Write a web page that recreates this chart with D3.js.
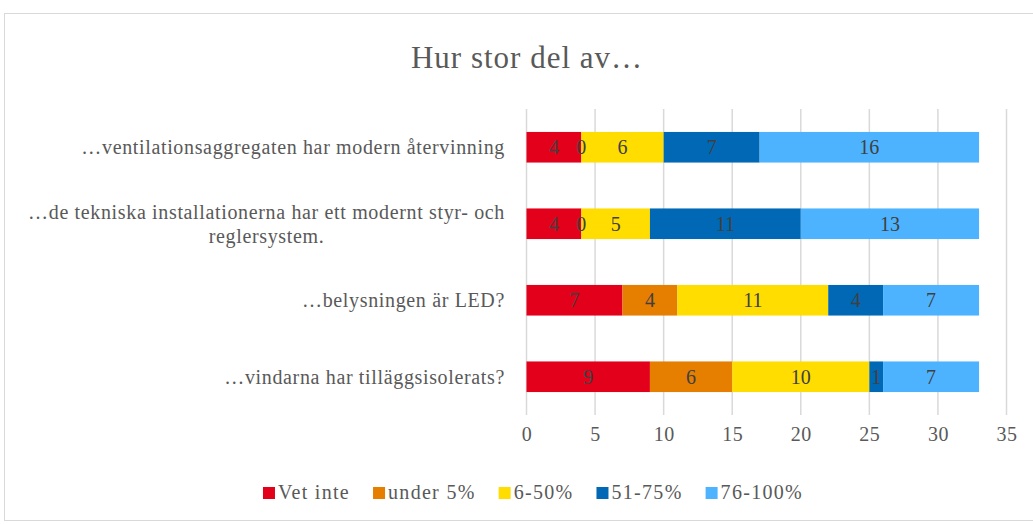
<!DOCTYPE html>
<html>
<head>
<meta charset="utf-8">
<title>Hur stor del av</title>
<script src="https://d3js.org/d3.v7.min.js"></script>
<style>
  body { margin: 0; background: #fff; }
</style>
</head>
<body>
<div id="chart"></div>
<script>
// data
var categories = [
  ["…ventilationsaggregaten har modern återvinning"],
  ["…de tekniska installationerna har ett modernt styr- och", "reglersystem."],
  ["…belysningen är LED?"],
  ["…vindarna har tilläggsisolerats?"]
];
var seriesNames = ["Vet inte", "under 5%", "6-50%", "51-75%", "76-100%"];
var seriesColors = ["#e2001a", "#e67e00", "#ffdd00", "#0068b4", "#4db3ff"];
var values = [
  [4, 0, 6, 7, 16],
  [4, 0, 5, 11, 13],
  [7, 4, 11, 4, 7],
  [9, 6, 10, 1, 7]
];
var xTicks = [0, 5, 10, 15, 20, 25, 30, 35];

var FONT = "'Liberation Serif', 'Times New Roman', 'DejaVu Serif', serif";
var W = 1033, H = 524;
var svg = d3.select("#chart").append("svg").attr("width", W).attr("height", H)
  .style("font-family", FONT);

// frame
svg.append("rect").attr("x", 4.5).attr("y", 13.5).attr("width", W + 10).attr("height", H - 17)
  .attr("fill", "#fff").attr("stroke", "#d9d9d9");

svg.append("text").attr("x", 527).attr("y", 68).attr("text-anchor", "middle")
  .style("font-family", FONT).style("letter-spacing", "1px")
  .attr("font-size", 31).attr("fill", "#595959").text("Hur stor del av…");

var x = d3.scaleLinear().domain([0, 35]).range([526.5, 1006.5]);
var y = d3.scaleBand().domain(d3.range(categories.length)).range([109, 415]).paddingInner(0.6).paddingOuter(0.3);

// grid
svg.append("g").selectAll("line").data(xTicks).join("line")
  .attr("x1", function(d) { return x(d); }).attr("x2", function(d) { return x(d); })
  .attr("y1", 109).attr("y2", 415)
  .attr("stroke", "#d9d9d9").attr("stroke-width", 1.5);

// x axis labels
var xAxis = svg.append("g").attr("transform", "translate(0,415)")
  .call(d3.axisBottom(x).tickValues(xTicks).tickSize(0).tickPadding(12));
xAxis.attr("font-family", null);
xAxis.select(".domain").remove();
xAxis.selectAll("text").attr("font-size", 20).attr("fill", "#595959")
  .style("font-family", FONT).style("letter-spacing", "0.5px");

// stacked bars
var stacked = values.map(function(row, i) {
  var acc = 0;
  return row.map(function(v, j) {
    var s = { cat: i, ser: j, x0: acc, x1: acc + v, v: v };
    acc += v;
    return s;
  });
});
var segs = [].concat.apply([], stacked);

svg.append("g").selectAll("rect").data(segs).join("rect")
  .attr("x", function(d) { return x(d.x0); })
  .attr("width", function(d) { return x(d.x1) - x(d.x0); })
  .attr("y", function(d) { return y(d.cat); })
  .attr("height", y.bandwidth())
  .attr("fill", function(d) { return seriesColors[d.ser]; });

svg.append("g").selectAll("text").data(segs).join("text")
  .attr("x", function(d) { return (x(d.x0) + x(d.x1)) / 2; })
  .attr("y", function(d) { return y(d.cat) + y.bandwidth() / 2 + 7; })
  .attr("text-anchor", "middle").attr("font-size", 20).attr("fill", "#404040")
  .style("font-family", FONT)
  .text(function(d) { return d.v; });

// category labels (multi-line block right-aligned, lines centred in it)
var cl = svg.append("g").selectAll("text").data(categories).join("text")
  .attr("text-anchor", "middle").attr("font-size", 20).attr("fill", "#595959")
  .style("font-family", FONT).style("letter-spacing", "0.65px")
  .attr("y", function(d, i) { return y(i) + y.bandwidth() / 2 + 7 - (d.length - 1) * 12; });
cl.selectAll("tspan").data(function(d) { return d; }).join("tspan")
  .attr("dy", function(d, i) { return i ? 24 : 0; })
  .text(function(d) { return d; });
cl.each(function() {
  var maxW = 0;
  d3.select(this).selectAll("tspan").each(function() {
    maxW = Math.max(maxW, this.getComputedTextLength());
  });
  d3.select(this).selectAll("tspan").attr("x", 505 - maxW / 2);
});

// legend, centred
var lg = svg.append("g");
var items = lg.selectAll("g").data(seriesNames).join("g");
items.append("rect").attr("width", 12).attr("height", 12).attr("y", -12)
  .attr("fill", function(d, i) { return seriesColors[i]; });
items.append("text").attr("x", 15).attr("font-size", 20).attr("fill", "#595959")
  .style("font-family", FONT).style("letter-spacing", "1.3px")
  .text(function(d) { return d; });
var pos = 0;
items.each(function() {
  var w = this.getBBox().width;
  d3.select(this).attr("transform", "translate(" + pos + ",0)");
  pos += w + 23;
});
pos -= 23;
lg.attr("transform", "translate(" + (533 - pos / 2) + ",499)");
</script>
</body>
</html>
